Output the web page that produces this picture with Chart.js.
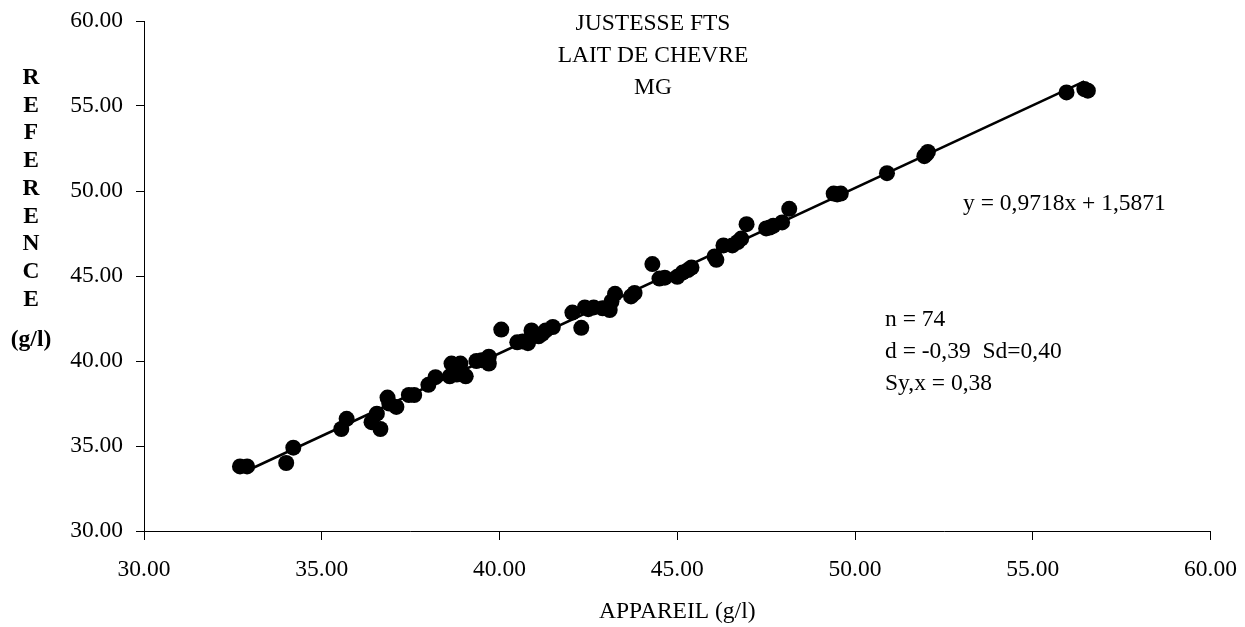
<!DOCTYPE html>
<html>
<head>
<meta charset="utf-8">
<script src="https://cdn.jsdelivr.net/npm/chart.js@4/dist/chart.umd.min.js"></script>
<style>
    html, body { margin: 0; padding: 0; background: #fff; overflow: hidden; }
    canvas { display: block; }
</style>
</head>
<body>
<canvas id="chart" width="1245" height="627"></canvas>
<script>
// valeurs
const appareil = [
    32.7, 32.9, 34.0, 34.2, 35.55, 35.7, 36.4, 36.55, 36.65, 36.85,
    37.1, 37.45, 37.6, 38.0, 38.2, 38.6, 38.65, 38.9, 39.05, 39.35,
    39.7, 39.7, 40.05, 40.5, 40.8, 40.9, 41.1, 41.3, 41.5, 42.05,
    42.3, 42.4, 42.65, 42.9, 43.1, 43.25, 43.7, 43.8, 44.3, 44.5,
    45.0, 45.15, 45.4, 46.05, 46.1, 46.3, 46.55, 46.8, 46.95, 47.5,
    47.7, 47.95, 48.15, 49.4, 49.6, 50.9, 51.95, 52.05, 55.95, 56.45,
    56.55, 40.65, 41.2, 38.8, 39.5, 44.65, 45.3, 42.5, 47.6, 36.9,
    46.7, 49.5, 52.0, 43.15
];
const reference = [
    33.8, 33.8, 34.0, 34.9, 36.0, 36.6, 36.4, 36.9, 36.0, 37.85,
    37.3, 38.0, 38.0, 38.6, 39.05, 39.1, 39.85, 39.85, 39.1, 40.0,
    40.25, 39.85, 41.85, 41.1, 41.05, 41.8, 41.45, 41.8, 42.0, 42.85,
    41.95, 43.15, 43.15, 43.1, 43.0, 43.95, 43.8, 44.0, 45.7, 44.85,
    44.95, 45.2, 45.5, 46.15, 45.95, 46.8, 46.8, 47.2, 48.05, 47.8,
    47.95, 48.15, 48.95, 49.85, 49.85, 51.05, 52.05, 52.3, 55.8, 56.0,
    55.9, 41.15, 41.6, 39.2, 40.05, 44.9, 45.35, 43.05, 47.85, 37.5,
    47.0, 49.8, 52.15, 43.5
];

// droite de regression (extremites lues)
const trendX = [32.85, 56.45];
const trendY = [33.5, 56.45];

const xTicks = [30, 35, 40, 45, 50, 55, 60];
const yTicks = [30, 35, 40, 45, 50, 55, 60];

const titleLines = ['JUSTESSE FTS', 'LAIT DE CHEVRE', 'MG'];
const yTitleLetters = ['R', 'E', 'F', 'E', 'R', 'E', 'N', 'C', 'E'];
const yTitleUnit = '(g/l)';
const xTitle = 'APPAREIL (g/l)';
const equation = 'y = 0,9718x + 1,5871';
const statsLines = ['n = 74', 'd = -0,39  Sd=0,40', 'Sy,x = 0,38'];

const FONT = "'Liberation Serif', 'Times New Roman', serif";
const FS = 23.5;

const textPlugin = {
    id: 'textes',
    afterDraw(chart) {
        const ctx = chart.ctx;
        ctx.save();
        ctx.fillStyle = '#000';
        ctx.textBaseline = 'alphabetic';

        // titre
        ctx.font = `${FS}px ${FONT}`;
        ctx.textAlign = 'center';
        titleLines.forEach((t, i) => ctx.fillText(t, 653, 29.5 + i * 32));

        // titre vertical
        ctx.font = `bold ${FS}px ${FONT}`;
        yTitleLetters.forEach((t, i) => ctx.fillText(t, 31, 84 + i * 27.7));
        ctx.fillText(yTitleUnit, 31, 346);

        // equation et stats
        ctx.font = `${FS}px ${FONT}`;
        ctx.textAlign = 'left';
        ctx.fillText(equation, 963, 209.5);
        statsLines.forEach((t, i) => ctx.fillText(t, 885, 325.7 + i * 32));
        ctx.restore();
    }
};

const axisCommon = {
    type: 'linear',
    min: 30,
    max: 60,
    border: { display: true, color: '#000', width: 1 },
    grid: { drawOnChartArea: false, drawTicks: true, color: '#000', lineWidth: 1 },
    ticks: {
        color: '#000',
        font: { family: FONT, size: FS },
        callback: (v) => v.toFixed(2)
    }
};

new Chart(document.getElementById('chart'), {
    type: 'scatter',
    data: {
        datasets: [
            {
                label: 'points',
                data: appareil.map((x, i) => ({ x: x, y: reference[i] })),
                backgroundColor: '#000',
                borderColor: '#000',
                pointRadius: 8,
                pointHoverRadius: 8,
                borderWidth: 0,
                order: 0
            },
            {
                label: 'droite',
                data: trendX.map((x, i) => ({ x: x, y: trendY[i] })),
                showLine: true,
                borderColor: '#000',
                borderWidth: 2.5,
                pointRadius: 0,
                order: 1
            }
        ]
    },
    options: {
        responsive: false,
        animation: false,
        layout: { autoPadding: false, padding: { left: 0, right: 34.5, top: 21, bottom: 0 } },
        plugins: {
            legend: { display: false },
            tooltip: { enabled: false }
        },
        scales: {
            x: {
                ...axisCommon,
                position: 'bottom',
                grid: { ...axisCommon.grid, tickLength: 9 },
                ticks: { ...axisCommon.ticks, padding: 16, maxRotation: 0 },
                afterBuildTicks: (s) => { s.ticks = xTicks.map(v => ({ value: v })); },
                afterFit: (s) => {
                    s.height = 96;
                    s.paddingLeft = 0;
                    s.paddingRight = 0;
                },
                title: {
                    display: true,
                    text: xTitle,
                    color: '#000',
                    font: { family: FONT, size: FS },
                    padding: { top: 0, bottom: 1 }
                }
            },
            y: {
                ...axisCommon,
                position: 'left',
                grid: { ...axisCommon.grid, tickLength: 8 },
                ticks: { ...axisCommon.ticks, padding: 13 },
                afterBuildTicks: (s) => { s.ticks = yTicks.map(v => ({ value: v })); },
                afterFit: (s) => {
                    s.width = 144;
                    s.paddingTop = 0;
                    s.paddingBottom = 0;
                }
            }
        }
    },
    plugins: [textPlugin]
});
</script>
</body>
</html>
